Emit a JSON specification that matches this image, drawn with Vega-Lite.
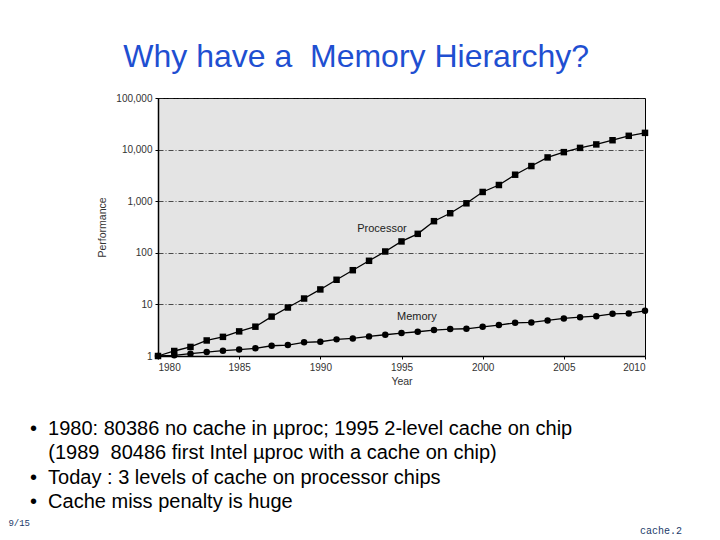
{
  "$schema": "https://vega.github.io/schema/vega-lite/v6.json",
  "background": "white",
  "padding": {"left": 8, "top": 40, "right": 0, "bottom": 0},
  "title": {"text": "Why have a\u00a0 Memory Hierarchy?", "fontSize": 32, "font": "Liberation Sans", "fontWeight": "normal", "color": "#1f4fd1", "anchor": "middle", "offset": 19, "dx": 11},
  "spacing": 30,
  "datasets": {
    "perf": [
      {"year": 1980, "series": "Processor", "perf": 1},
      {"year": 1981, "series": "Processor", "perf": 1.25},
      {"year": 1982, "series": "Processor", "perf": 1.5},
      {"year": 1983, "series": "Processor", "perf": 2.0},
      {"year": 1984, "series": "Processor", "perf": 2.35},
      {"year": 1985, "series": "Processor", "perf": 3.0},
      {"year": 1986, "series": "Processor", "perf": 3.7},
      {"year": 1987, "series": "Processor", "perf": 5.8},
      {"year": 1988, "series": "Processor", "perf": 8.7},
      {"year": 1989, "series": "Processor", "perf": 13},
      {"year": 1990, "series": "Processor", "perf": 19.5},
      {"year": 1991, "series": "Processor", "perf": 30},
      {"year": 1992, "series": "Processor", "perf": 46},
      {"year": 1993, "series": "Processor", "perf": 70},
      {"year": 1994, "series": "Processor", "perf": 106},
      {"year": 1995, "series": "Processor", "perf": 166},
      {"year": 1996, "series": "Processor", "perf": 233},
      {"year": 1997, "series": "Processor", "perf": 410},
      {"year": 1998, "series": "Processor", "perf": 585},
      {"year": 1999, "series": "Processor", "perf": 910},
      {"year": 2000, "series": "Processor", "perf": 1510},
      {"year": 2001, "series": "Processor", "perf": 2060},
      {"year": 2002, "series": "Processor", "perf": 3260},
      {"year": 2003, "series": "Processor", "perf": 4800},
      {"year": 2004, "series": "Processor", "perf": 7050},
      {"year": 2005, "series": "Processor", "perf": 8930},
      {"year": 2006, "series": "Processor", "perf": 10800},
      {"year": 2007, "series": "Processor", "perf": 12600},
      {"year": 2008, "series": "Processor", "perf": 15200},
      {"year": 2009, "series": "Processor", "perf": 18500},
      {"year": 2010, "series": "Processor", "perf": 21100},
      {"year": 1980, "series": "Memory", "perf": 1},
      {"year": 1981, "series": "Memory", "perf": 1.03},
      {"year": 1982, "series": "Memory", "perf": 1.11},
      {"year": 1983, "series": "Memory", "perf": 1.19},
      {"year": 1984, "series": "Memory", "perf": 1.27},
      {"year": 1985, "series": "Memory", "perf": 1.33},
      {"year": 1986, "series": "Memory", "perf": 1.41},
      {"year": 1987, "series": "Memory", "perf": 1.58},
      {"year": 1988, "series": "Memory", "perf": 1.63},
      {"year": 1989, "series": "Memory", "perf": 1.84},
      {"year": 1990, "series": "Memory", "perf": 1.89},
      {"year": 1991, "series": "Memory", "perf": 2.1},
      {"year": 1992, "series": "Memory", "perf": 2.19},
      {"year": 1993, "series": "Memory", "perf": 2.4},
      {"year": 1994, "series": "Memory", "perf": 2.58},
      {"year": 1995, "series": "Memory", "perf": 2.78},
      {"year": 1996, "series": "Memory", "perf": 2.95},
      {"year": 1997, "series": "Memory", "perf": 3.18},
      {"year": 1998, "series": "Memory", "perf": 3.32},
      {"year": 1999, "series": "Memory", "perf": 3.37},
      {"year": 2000, "series": "Memory", "perf": 3.68},
      {"year": 2001, "series": "Memory", "perf": 3.97},
      {"year": 2002, "series": "Memory", "perf": 4.4},
      {"year": 2003, "series": "Memory", "perf": 4.47},
      {"year": 2004, "series": "Memory", "perf": 4.88},
      {"year": 2005, "series": "Memory", "perf": 5.34},
      {"year": 2006, "series": "Memory", "perf": 5.66},
      {"year": 2007, "series": "Memory", "perf": 5.92},
      {"year": 2008, "series": "Memory", "perf": 6.57},
      {"year": 2009, "series": "Memory", "perf": 6.67},
      {"year": 2010, "series": "Memory", "perf": 7.5}
    ],
    "labels": [
      {"year": 1993.8, "perf": 290, "label": "Processor"},
      {"year": 1995.95, "perf": 5.7, "label": "Memory"}
    ],
    "notes": [
      {"row": "l1", "side": "body", "role": "body", "text": "•\u00a0\u00a01980: 80386 no cache in µproc; 1995 2-level cache on chip"},
      {"row": "l2", "side": "body", "role": "body", "text": "\u200b\u00a0\u00a0\u00a0\u200a(1989\u00a0 80486 first Intel µproc with a cache on chip)"},
      {"row": "l3", "side": "body", "role": "body", "text": "•\u00a0\u00a0Today : 3 levels of cache on processor chips"},
      {"row": "l4", "side": "body", "role": "body", "text": "•\u00a0\u00a0Cache miss penalty is huge"},
      {"row": "foot", "side": "body", "role": "footL", "text": "9/15"},
      {"row": "foot", "side": "right", "role": "footR", "text": "cache.2"}
    ]
  },
  "vconcat": [
    {
      "width": 487,
      "height": 258,
      "view": {"fill": "#e4e4e4", "stroke": "#000", "strokeWidth": 1},
      "layer": [
        {
          "data": {"name": "perf"},
          "mark": {"type": "line", "color": "#000", "strokeWidth": 1.3},
          "encoding": {
            "x": {"field": "year", "type": "quantitative",
                  "scale": {"domain": [1980, 2010], "nice": false, "zero": false},
                  "axis": {"values": [1980, 1985, 1990, 1995, 2000, 2005, 2010], "format": "d", "title": "Year",
                           "grid": false, "domainColor": "#000", "domainWidth": 1.5, "tickColor": "#000", "tickSize": 3,
                           "labelFontSize": 10, "labelColor": "#333", "labelPadding": 3, "titleFontSize": 10.5,
                           "titleFontWeight": "normal", "titleColor": "#333", "titlePadding": 4}},
            "y": {"field": "perf", "type": "quantitative",
                  "scale": {"type": "log", "domain": [1, 100000], "nice": false},
                  "axis": {"values": [1, 10, 100, 1000, 10000, 100000], "format": ",", "title": "Performance",
                           "grid": true, "gridColor": "#222", "gridDash": [5, 2, 1, 2], "gridWidth": 0.8,
                           "domainColor": "#000", "domainWidth": 1.5, "tickColor": "#000", "tickSize": 3,
                           "labelFontSize": 10, "labelColor": "#333", "labelPadding": 3, "titleFontSize": 10.5,
                           "titleFontWeight": "normal", "titleColor": "#333", "titlePadding": 8}},
            "detail": {"field": "series", "type": "nominal"}
          }
        },
        {
          "data": {"name": "perf"},
          "mark": {"type": "point", "filled": true, "color": "#000", "opacity": 1, "size": 42},
          "encoding": {
            "x": {"field": "year", "type": "quantitative"},
            "y": {"field": "perf", "type": "quantitative"},
            "shape": {"field": "series", "type": "nominal",
                      "scale": {"domain": ["Processor", "Memory"], "range": ["square", "circle"]}, "legend": null}
          }
        },
        {
          "data": {"name": "labels"},
          "mark": {"type": "text", "fontSize": 11, "color": "#222", "font": "Liberation Sans"},
          "encoding": {
            "x": {"field": "year", "type": "quantitative"},
            "y": {"field": "perf", "type": "quantitative"},
            "text": {"field": "label", "type": "nominal"}
          }
        }
      ]
    },
    {
      "width": 487,
      "height": 121,
      "data": {"name": "notes"},
      "encoding": {
        "x": {"field": "side", "type": "nominal",
              "scale": {"type": "point", "domain": ["body", "right"], "range": [-128, 524], "padding": 0}, "axis": null},
        "y": {"field": "row", "type": "nominal",
              "scale": {"type": "point", "domain": ["l1", "l2", "l3", "l4", "foot"], "padding": 0.5}, "axis": null},
        "text": {"field": "text", "type": "nominal"}
      },
      "layer": [
        {
          "transform": [{"filter": "datum.role === 'body'"}],
          "mark": {"type": "text", "align": "left", "baseline": "middle", "font": "Liberation Sans", "fontSize": 20, "color": "#000"}
        },
        {
          "transform": [{"filter": "datum.role === 'footL'"}],
          "mark": {"type": "text", "align": "right", "baseline": "alphabetic", "font": "Liberation Mono", "fontSize": 9, "color": "#1a3a6a"}
        },
        {
          "transform": [{"filter": "datum.role === 'footR'"}],
          "mark": {"type": "text", "align": "right", "baseline": "top", "font": "Liberation Mono", "fontSize": 10, "color": "#1a3a6a"}
        }
      ]
    }
  ],
  "config": {"font": "Liberation Sans", "view": {"stroke": null}}
}
